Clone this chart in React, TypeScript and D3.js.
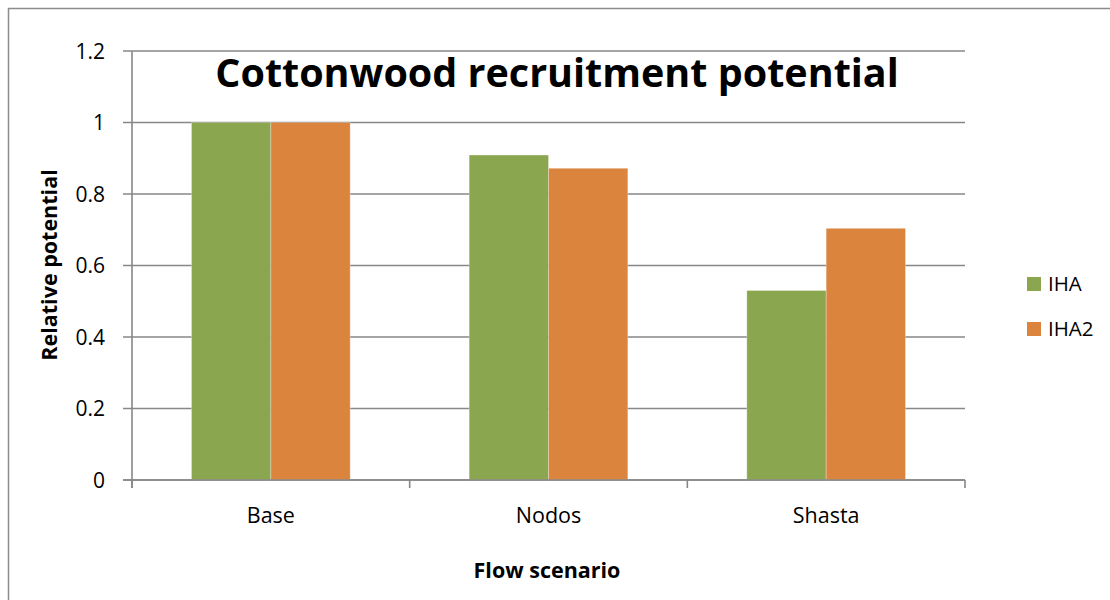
import React from "react";
import * as d3 from "d3";

const categories = ["Base", "Nodos", "Shasta"];
const seriesNames = ["IHA", "IHA2"];
const ihaValues = [1.0, 0.909, 0.53];
const iha2Values = [1.0, 0.872, 0.704];
const yTicks = [0, 0.2, 0.4, 0.6, 0.8, 1, 1.2];
const colors = ["#8AA64E", "#DB843E"];

const W = 1110;
const H = 600;
const left = 132;
const right = 965;
const top = 51;
const bottom = 480;
const FONT = "'Open Sans', 'Liberation Sans', sans-serif";

export default function App() {
  const seriesValues = [ihaValues, iha2Values];
  const x = d3.scaleBand<string>().domain(categories).range([left, right]).padding(0);
  const cw = x.bandwidth();
  const barW = cw / 3.5;
  const gap = barW * 1.5;
  const xs = d3.scaleBand<string>().domain(seriesNames).range([gap / 2, cw - gap / 2]).padding(0);
  const y = d3.scaleLinear().domain([0, 1.2]).range([bottom, top]);
  const gridColor = "#878787";

  return (
    <svg
      width={W}
      height={H}
      style={{ position: "absolute", left: 0, top: 0, display: "block", background: "#fff" }}
    >
      {/* outer chart border */}
      <line x1={8.5} y1={8} x2={8.5} y2={H} stroke="#8c8c8c" strokeWidth={1.5} />
      <line x1={8} y1={8.5} x2={W} y2={8.5} stroke="#8c8c8c" strokeWidth={1.5} />

      {/* gridlines + y ticks */}
      {yTicks.map((t) => (
        <g key={t}>
          <line x1={left - 9} x2={right} y1={y(t)} y2={y(t)} stroke={gridColor} strokeWidth={1.6} />
          <text
            x={105}
            y={y(t)}
            dy="0.36em"
            textAnchor="end"
            fontFamily={FONT}
            fontSize={21}
            fill="#000"
          >
            {d3.format("")(t)}
          </text>
        </g>
      ))}

      {/* bars */}
      {categories.map((c, i) => (
        <g key={c} transform={`translate(${x(c)},0)`}>
          {seriesNames.map((s, j) => (
            <rect
              key={s}
              x={xs(s)}
              y={y(seriesValues[j][i])}
              width={xs.bandwidth()}
              height={y(0) - y(seriesValues[j][i])}
              fill={colors[j]}
              stroke="#ffffff"
              strokeOpacity={0.35}
              strokeWidth={0.8}
            />
          ))}
        </g>
      ))}

      {/* axes */}
      <line x1={left} x2={left} y1={top} y2={bottom + 8} stroke={gridColor} strokeWidth={1.6} />
      <line x1={left - 9} x2={right} y1={bottom} y2={bottom} stroke={gridColor} strokeWidth={1.6} />
      {[...categories.map((c) => x(c) as number), right].map((v, i) => (
        <line key={i} x1={v} x2={v} y1={bottom} y2={bottom + 8} stroke={gridColor} strokeWidth={1.6} />
      ))}

      {/* category labels */}
      {categories.map((c) => (
        <text
          key={c}
          x={(x(c) as number) + cw / 2}
          y={523}
          textAnchor="middle"
          fontFamily={FONT}
          fontSize={21.5}
          fill="#000"
        >
          {c}
        </text>
      ))}

      {/* title */}
      <text
        x={557}
        y={87}
        textAnchor="middle"
        fontFamily={FONT}
        fontWeight="bold"
        fontSize={39.5}
        fill="#000"
      >
        Cottonwood recruitment potential
      </text>

      {/* axis titles */}
      <text
        x={547}
        y={578}
        textAnchor="middle"
        fontFamily={FONT}
        fontWeight="bold"
        fontSize={21.5}
        fill="#000"
      >
        Flow scenario
      </text>
      <text
        transform={`translate(57,265) rotate(-90)`}
        textAnchor="middle"
        fontFamily={FONT}
        fontWeight="bold"
        fontSize={21.5}
        fill="#000"
      >
        Relative potential
      </text>

      {/* legend */}
      {seriesNames.map((s, j) => (
        <g key={s} transform={`translate(1027,${277 + j * 45})`}>
          <rect x={0} y={0} width={14} height={14} fill={colors[j]} />
          <text x={21} y={7} dy="0.36em" fontFamily={FONT} fontSize={20.5} fill="#000">
            {s}
          </text>
        </g>
      ))}
    </svg>
  );
}
